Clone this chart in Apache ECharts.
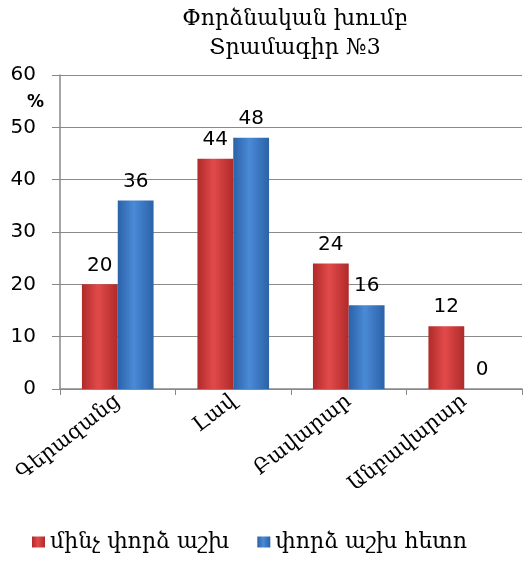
<!DOCTYPE html>
<html>
<head>
<meta charset="utf-8">
<script src="https://cdn.jsdelivr.net/npm/echarts@6/dist/echarts.min.js"></script>
<style>
  html, body { margin: 0; padding: 0; background: #fff; }
  #chart { width: 532px; height: 567px; }
</style>
</head>
<body>
<div id="chart"></div>
<script>
var categories = ['Գերազանց', 'Լավ', 'Բավարար', 'Անբավարար'];
var seriesNames = ['մինչ փորձ աշխ', 'փորձ աշխ հետո'];
var before = [20, 44, 24, 12];
var after = [36, 48, 16, 0];
var yTicks = [0, 10, 20, 30, 40, 50, 60];

var mychart = echarts.init(document.getElementById('chart'));

function grad(dark, light) {
    return new echarts.graphic.LinearGradient(0, 0, 1, 0, [
        { offset: 0, color: dark },
        { offset: 0.45, color: light },
        { offset: 1, color: dark }
    ]);
}

var option = {
    backgroundColor: '#fff',
    animation: false,
    title: {
        text: 'Փորձնական խումբ\nՏրամագիր №3',
        left: 290,
        top: 0,
        textAlign: 'center',
        textStyle: {
            fontFamily: 'DejaVu Serif',
            fontWeight: 'normal',
            fontSize: 22,
            lineHeight: 29,
            color: '#000'
        }
    },
    legend: {
        left: 27,
        bottom: 9,
        itemWidth: 13,
        itemHeight: 11,
        itemGap: 28,
        icon: 'rect',
        data: seriesNames,
        textStyle: {
            fontFamily: 'DejaVu Serif',
            fontSize: 22,
            color: '#000'
        }
    },
    graphic: [{
        type: 'text',
        left: 27,
        top: 94,
        style: {
            text: '%',
            font: 'bold 17px DejaVu Sans',
            fill: '#000'
        }
    }],
    grid: {
        left: 60,
        right: 10,
        top: 75,
        bottom: 178
    },
    xAxis: {
        type: 'category',
        data: categories,
        axisLine: { lineStyle: { color: '#888', width: 1.5 } },
        axisTick: { show: true, length: 6, lineStyle: { color: '#888' } },
        axisLabel: {
            rotate: 38,
            margin: 10,
            interval: 0,
            fontFamily: 'DejaVu Serif',
            fontSize: 21,
            color: '#000'
        }
    },
    yAxis: {
        type: 'value',
        min: yTicks[0],
        max: yTicks[yTicks.length - 1],
        interval: 10,
        axisLine: { show: true, lineStyle: { color: '#888', width: 1.5 } },
        axisTick: { show: true, length: 8, lineStyle: { color: '#888' } },
        splitLine: { lineStyle: { color: '#8a8a8a', width: 1 } },
        axisLabel: {
            margin: 24,
            fontFamily: 'DejaVu Sans',
            fontSize: 20,
            color: '#000'
        }
    },
    series: [{
        name: seriesNames[0],
        type: 'bar',
        data: before,
        barGap: '0%',
        barCategoryGap: '38%',
        itemStyle: { color: grad('#b02a2a', '#e24a4a') },
        label: {
            show: true,
            position: 'top',
            distance: 9,
            fontFamily: 'DejaVu Sans',
            fontSize: 20,
            color: '#000'
        }
    }, {
        name: seriesNames[1],
        type: 'bar',
        data: after,
        itemStyle: { color: grad('#2b62a8', '#4a8ad6') },
        label: {
            show: true,
            position: 'top',
            distance: 9,
            fontFamily: 'DejaVu Sans',
            fontSize: 20,
            color: '#000'
        }
    }]
};
mychart.setOption(option);
</script>
</body>
</html>
